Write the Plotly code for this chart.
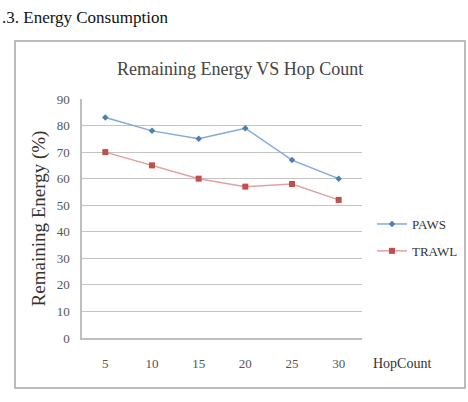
import plotly.graph_objects as go

hop_count = ["5", "10", "15", "20", "25", "30"]
paws = [83, 78, 75, 79, 67, 60]
trawl = [70, 65, 60, 57, 58, 52]
y_ticks = [0, 10, 20, 30, 40, 50, 60, 70, 80, 90]

W, H = 468, 402
L, R, T, B = 82, 106, 99, 64
pw, ph = W - L - R, H - T - B

def px(x):
    return (x - L) / pw

def py(y):
    return (H - B - y) / ph

SERIF = "Liberation Serif, Times New Roman, serif"

fig = go.Figure()
fig.add_trace(go.Scatter(
    x=hop_count, y=paws, name="PAWS", mode="lines+markers",
    line=dict(color="#86a8d6", width=1.5),
    marker=dict(symbol="diamond", size=5, color="#4a7ebb"),
    legendgroup="a",
))
fig.add_trace(go.Scatter(
    x=hop_count, y=trawl, name="TRAWL", mode="lines+markers",
    line=dict(color="#e3a0a0", width=1.5),
    marker=dict(symbol="square", size=6, color="#c0504d"),
    legendgroup="b",
))

fig.update_layout(
    width=W, height=H,
    margin=dict(l=L, r=R, t=T, b=B, autoexpand=False),
    paper_bgcolor="white", plot_bgcolor="white",
    font=dict(family=SERIF, color="#444"),
    showlegend=True,
    legend=dict(x=px(372), y=py(209), xanchor="left", yanchor="top",
                font=dict(family=SERIF, size=13, color="#333"),
                tracegroupgap=7, itemwidth=30,
                bgcolor="rgba(0,0,0,0)"),
    xaxis=dict(type="category", range=[-0.5, 5.5], showgrid=False,
               showline=True, linecolor="#bfbfbf", linewidth=1.5,
               ticks="", ticklabelstandoff=13,
               tickfont=dict(family=SERIF, size=13, color="#555"),
               zeroline=False),
    yaxis=dict(range=[0, 90], tickvals=y_ticks, showgrid=True,
               gridcolor="#c4c4c4", gridwidth=1,
               showline=True, linecolor="#bfbfbf", linewidth=1.5,
               ticks="", ticklabelstandoff=8, zeroline=False,
               tickfont=dict(family=SERIF, size=13, color="#555"),
               title=dict(text="Remaining Energy (%)", standoff=6,
                          font=dict(family=SERIF, size=19, color="#333"))),
    shapes=[dict(type="rect", xref="paper", yref="paper",
                 x0=px(15), x1=px(465), y0=py(388), y1=py(41),
                 line=dict(color="#a6a6a6", width=1.5))],
    annotations=[
        dict(text=".3. Energy Consumption", xref="paper", yref="paper",
             x=px(0), y=py(17), xanchor="left", yanchor="middle",
             showarrow=False, font=dict(family=SERIF, size=17, color="#111")),
        dict(text="Remaining Energy VS Hop Count", xref="paper", yref="paper",
             x=px(240), y=py(69), xanchor="center", yanchor="middle",
             showarrow=False, font=dict(family=SERIF, size=18, color="#444")),
        dict(text="HopCount", xref="paper", yref="paper",
             x=px(371), y=py(363), xanchor="left", yanchor="middle",
             showarrow=False, font=dict(family=SERIF, size=14, color="#333")),
    ],
)

fig.write_html("out.html")
